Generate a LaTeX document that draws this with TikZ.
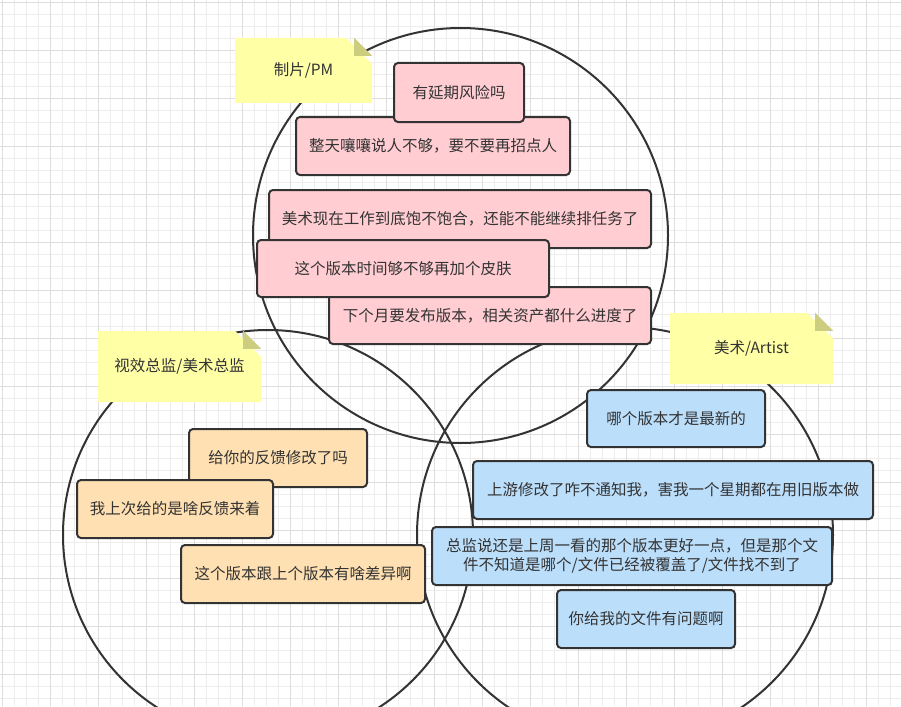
\documentclass[tikz,border=0pt]{standalone}
\usepackage{fontspec}
\setmainfont{Noto Sans CJK SC}
\usetikzlibrary{shapes.misc, calc}

\definecolor{gridminorc}{HTML}{EDEDED}
\definecolor{gridmajorc}{HTML}{DEDEDE}
\definecolor{linec}{HTML}{333333}
\definecolor{textc}{HTML}{333333}
\definecolor{notefill}{HTML}{FFFFA6}
\definecolor{notefoldc}{HTML}{CDCD80}
\definecolor{pinkfill}{HTML}{FFCDD2}
\definecolor{orangefill}{HTML}{FFE0B2}
\definecolor{bluefill}{HTML}{BBDEFB}

\newcommand{\msgfont}{\fontsize{15.5}{18.5}\selectfont}

\begin{document}
\begin{tikzpicture}[x=1pt, y=-1pt]

            \tikzstyle{gridminor} = [line width=1pt, draw=gridminorc];
            \tikzstyle{gridmajor} = [line width=1pt, draw=gridmajorc];
            \tikzstyle{zone} = [draw=linec, line width=2pt, circle, inner sep=0pt];
            \tikzstyle{note} = [chamfered rectangle, chamfered rectangle corners=north east, chamfered rectangle xsep=18pt, chamfered rectangle ysep=18pt, fill=notefill, inner sep=0pt, text=textc, font=\msgfont];
            \tikzstyle{notefold} = [fill=notefoldc];
            \tikzstyle{msgbox} = [draw=linec, line width=2pt, rounded corners=4pt, inner sep=0pt, align=center, text=textc, font=\msgfont];
            \tikzstyle{pinkbox} = [msgbox, fill=pinkfill];
            \tikzstyle{orangebox} = [msgbox, fill=orangefill];
            \tikzstyle{bluebox} = [msgbox, fill=bluefill];

            \useasboundingbox[fill=white] (0,0) rectangle (901,706);

            % background grid
            \foreach \i in {0,...,75} \draw[gridminor] (2.5+12*\i,0) -- (2.5+12*\i,706);
            \foreach \i in {0,...,58} \draw[gridminor] (0,2.5+12*\i) -- (901,2.5+12*\i);
            \foreach \i in {0,...,18} \draw[gridmajor] (2.5+48*\i,0) -- (2.5+48*\i,706);
            \foreach \i in {0,...,14} \draw[gridmajor] (0,2.5+48*\i) -- (901,2.5+48*\i);

            % the three circles
            \node[zone, minimum size=415] (pmzone) at (460.5,235.5) {};
            \node[zone, minimum size=410] (leadzone) at (268,535) {};
            \node[zone, minimum size=416] (artzone) at (625,535) {};

            % sticky notes
            \node[note, minimum width=137, minimum height=65] (pmnote) at (303.5,70.5) {制片/PM};
            \node[note, minimum width=163, minimum height=71] (leadnote) at (179.5,366.5) {视效总监/美术总监};
            \node[note, minimum width=163, minimum height=71] (artnote) at (751.5,348.5) {美术/Artist};
            \foreach \n in {pmnote, leadnote, artnote}
                \fill[notefold] ($(\n.north -| \n.east)+(-18,0)$) -- ++(0,18) -- ++(18,0) -- cycle;

            % producer
            \node[pinkbox, minimum width=382, minimum height=58] (pm3) at (460,219) {美术现在工作到底饱不饱合，还能不能继续排任务了};
            \node[pinkbox, minimum width=322, minimum height=57] (pm5) at (490,315.5) {下个月要发布版本，相关资产都什么进度了};
            \node[pinkbox, minimum width=292, minimum height=57] (pm4) at (403,268.5) {这个版本时间够不够再加个皮肤};
            \node[pinkbox, minimum width=274, minimum height=58] (pm2) at (433,146) {整天嚷嚷说人不够，要不要再招点人};
            \node[pinkbox, minimum width=130, minimum height=59] (pm1) at (459,92.5) {有延期风险吗};

            % supervisors
            \node[orangebox, minimum width=178, minimum height=58] (lead1) at (278,458) {给你的反馈修改了吗};
            \node[orangebox, minimum width=196, minimum height=58] (lead2) at (175,509) {我上次给的是啥反馈来着};
            \node[orangebox, minimum width=244, minimum height=58] (lead3) at (303,574) {这个版本跟上个版本有啥差异啊};

            % artists
            \node[bluebox, minimum width=178, minimum height=57] (art1) at (676,418.5) {哪个版本才是最新的};
            \node[bluebox, minimum width=400, minimum height=58] (art2) at (673,490) {上游修改了咋不通知我，害我一个星期都在用旧版本做};
            \node[bluebox, minimum width=400, minimum height=58] (art3) at (632,556) {总监说还是上周一看的那个版本更好一点，但是那个文\\件不知道是哪个/文件已经被覆盖了/文件找不到了};
            \node[bluebox, minimum width=178, minimum height=58] (art4) at (646,619) {你给我的文件有问题啊};

        \end{tikzpicture}
\end{document}
